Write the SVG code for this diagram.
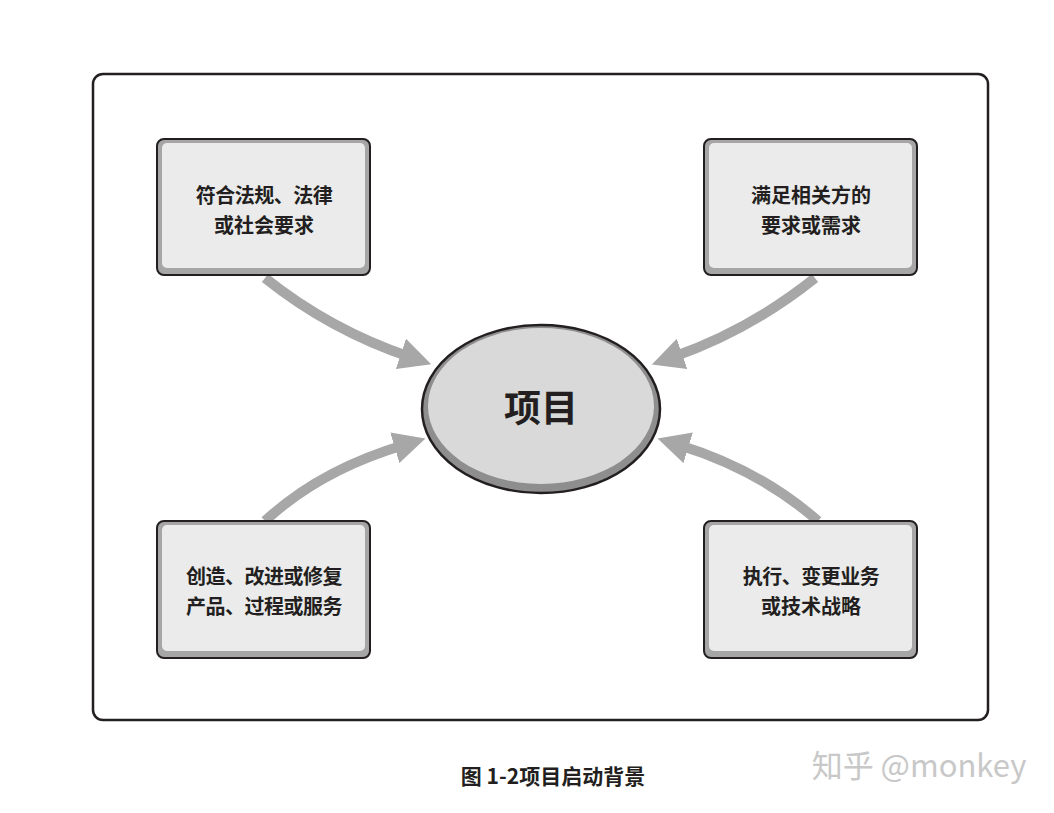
<svg xmlns="http://www.w3.org/2000/svg" width="1054" height="813" viewBox="0 0 1054 813">
<style>
.ob{fill:#a6a6a6;stroke:#231f20;stroke-width:2}
.ib{fill:#ebebeb}
.t{font-family:"Noto Sans CJK SC","Liberation Sans",sans-serif;font-weight:bold;font-size:20px;fill:#231f20;text-anchor:middle}
.ar{fill:none;stroke:#a7a7a7;stroke-width:10;marker-end:url(#ah)}
</style>
<defs>
<marker id="ah" viewBox="0 0 10 10" refX="3" refY="5" markerWidth="3.2" markerHeight="3.2" orient="auto" markerUnits="strokeWidth">
<path d="M0,0 L10,5 L0,10 Z" fill="#a7a7a7"/>
</marker>
</defs>
<rect x="0" y="0" width="1054" height="813" fill="#fff"/>
<rect x="93" y="74" width="895" height="646" rx="10" fill="#fff" stroke="#231f20" stroke-width="2.5"/>
<g id="connectors">
<path class="ar" d="M265,278 Q330,330 410,357"/>
<path class="ar" d="M815,278 Q750,330 673,357"/>
<path class="ar" d="M265,521 Q320,470 404,445"/>
<path class="ar" d="M818,521 Q760,470 679,445"/>
</g>
<g id="center">
<ellipse cx="541" cy="409" rx="119" ry="84" fill="#8e8e8e" stroke="#231f20" stroke-width="2.5"/>
<ellipse cx="541" cy="406" rx="113" ry="78" fill="#d9d9d9"/>
<text x="541" y="422" class="t" style="font-size:37px">项目</text>
</g>
<g id="n1">
<rect class="ob" x="157" y="139" width="213" height="136" rx="7"/>
<rect class="ib" x="162" y="143" width="203" height="125" rx="5"/>
<text class="t" x="264" y="203" letter-spacing="-0.5">符合法规、法律</text>
<text class="t" x="264" y="233">或社会要求</text>
</g>
<g id="n2">
<rect class="ob" x="704" y="139" width="213" height="136" rx="7"/>
<rect class="ib" x="709" y="143" width="203" height="125" rx="5"/>
<text class="t" x="811" y="203">满足相关方的</text>
<text class="t" x="811" y="233">要求或需求</text>
</g>
<g id="n3">
<rect class="ob" x="157" y="521" width="213" height="137" rx="7"/>
<rect class="ib" x="162" y="525" width="203" height="126" rx="5"/>
<text class="t" x="264" y="584" letter-spacing="-0.5">创造、改进或修复</text>
<text class="t" x="264" y="614" letter-spacing="-0.5">产品、过程或服务</text>
</g>
<g id="n4">
<rect class="ob" x="704" y="521" width="213" height="137" rx="7"/>
<rect class="ib" x="709" y="525" width="203" height="126" rx="5"/>
<text class="t" x="811" y="584" letter-spacing="-0.5">执行、变更业务</text>
<text class="t" x="811" y="614">或技术战略</text>
</g>
<text class="t" x="553" y="784" style="font-size:21px">图 1-2项目启动背景</text>
<text x="919" y="777" font-family="Noto Sans CJK SC,Liberation Sans,sans-serif" font-size="31" fill="#c8c8c8" text-anchor="middle">知乎 @monkey</text>
</svg>
